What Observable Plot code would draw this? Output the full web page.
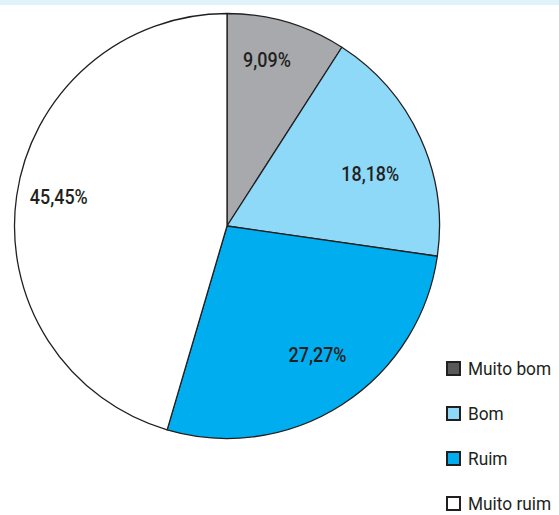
<!DOCTYPE html>
<html>
<head>
<meta charset="utf-8">
<script src="https://cdn.jsdelivr.net/npm/d3@7"></script>
<script src="https://cdn.jsdelivr.net/npm/@observablehq/plot@0.6"></script>
<style>
  html, body { margin: 0; padding: 0; background: #fff; }
  body { width: 559px; height: 515px; overflow: hidden; }
  #band { height: 5px; background: #e1f3fa; }
</style>
</head>
<body>
<div id="band"></div>
<div id="chart"></div>
<script>
const categories = ["Muito bom", "Bom", "Ruim", "Muito ruim"];
const values = [9.09, 18.18, 27.27, 45.45];
const labels = ["9,09%", "18,18%", "27,27%", "45,45%"];
const sliceColors = ["#a7a9ac", "#8ed8f8", "#00aeef", "#ffffff"];
const legendColors = ["#58595b", "#8ed8f8", "#00aeef", "#ffffff"];

// layout (label placement relative to slice centroid: radius fraction, angle nudge in degrees)
const labelLayout = [{r: 0.803, da: -3.0}, {r: 0.715, da: 4.5}, {r: 0.742, da: -2.1}, {r: 0.805, da: 1.4}];

const FONT = 'Roboto, "Liberation Sans", sans-serif';
const INK = "#231f20";

const pie = d3.pie().sort(null).value(d => d.value);
const arcs = pie(categories.map((c, i) => ({category: c, value: values[i], label: labels[i], color: sliceColors[i]})));
const labelData = arcs.map((a, i) => {
  const m = (a.startAngle + a.endAngle) / 2 + labelLayout[i].da * Math.PI / 180;
  const r = labelLayout[i].r;
  return {x: r * Math.sin(m), y: r * Math.cos(m), label: a.data.label};
});

const cx = 227, cy = 221, R = 212.5;

const pieMark = (index, scales) => {
  const x0 = scales.x(0), y0 = scales.y(0);
  const r = scales.x(1) - scales.x(0);
  const arc = d3.arc().innerRadius(0).outerRadius(r);
  const g = d3.create("svg:g").attr("transform", `translate(${x0},${y0})`);
  g.selectAll("path").data(arcs).join("path")
    .attr("d", arc)
    .attr("fill", d => d.data.color)
    .attr("stroke", INK)
    .attr("stroke-width", 1.3)
    .attr("stroke-linejoin", "round");
  return g.node();
};

const legendMark = () => {
  const g = d3.create("svg:g")
    .attr("font-family", FONT).attr("font-size", 18).attr("font-weight", 400)
    .attr("fill", INK).attr("text-anchor", "start");
  const step = 45;
  categories.forEach((c, i) => {
    g.append("rect")
      .attr("x", 447).attr("y", 357 + i * step)
      .attr("width", 13).attr("height", 13)
      .attr("fill", legendColors[i])
      .attr("stroke", INK).attr("stroke-width", 2);
    g.append("text")
      .attr("text-anchor", "start")
      .attr("transform", `translate(468,${370 + i * step}) scale(0.96,1)`)
      .text(c);
  });
  return g.node();
};

const chart = Plot.plot({
  width: 559,
  height: 510,
  margin: 0,
  style: {fontFamily: FONT, background: "transparent"},
  x: {type: "linear", domain: [-1, 1], range: [cx - R, cx + R], axis: null},
  y: {type: "linear", domain: [-1, 1], range: [cy + R, cy - R], axis: null},
  marks: [
    pieMark,
    Plot.text(labelData, {x: "x", y: "y", text: "label", fontSize: 19.5, fontWeight: 500, fill: INK, fontFamily: FONT}),
    legendMark
  ]
});

// condense the pie label glyphs horizontally (reference uses a condensed face)
chart.querySelectorAll('g[aria-label="text"] text').forEach(t => {
  const tr = t.getAttribute("transform");
  if (tr) {
    t.setAttribute("transform", tr + " scale(0.92,1)");
  } else {
    const x = +t.getAttribute("x") || 0, y = +t.getAttribute("y") || 0;
    t.removeAttribute("x"); t.removeAttribute("y");
    t.setAttribute("transform", `translate(${x},${y}) scale(0.92,1)`);
  }
});

document.getElementById("chart").appendChild(chart);
</script>
</body>
</html>
